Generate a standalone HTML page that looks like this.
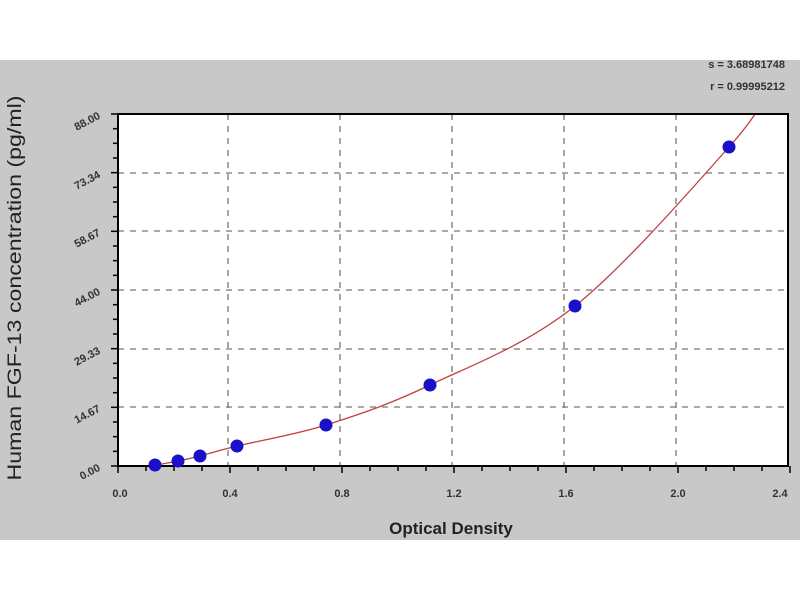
<!DOCTYPE html>
<html><head><meta charset="utf-8"><style>
html,body{margin:0;padding:0;background:#fff;width:800px;height:600px;overflow:hidden}
svg{display:block}
text{font-family:"Liberation Sans",sans-serif}
</style></head><body>
<svg id="s" width="800" height="600" xmlns="http://www.w3.org/2000/svg">
<defs><clipPath id="c"><rect x="118" y="114" width="670" height="352"/></clipPath></defs>
<rect x="0" y="60" width="800" height="480" fill="#c8c8c8"/>
<rect x="118" y="114" width="670" height="352" fill="#fff"/>
<g stroke="#777" stroke-width="1.3" stroke-dasharray="6,6">
<line x1="228" y1="114" x2="228" y2="466"/><line x1="340" y1="114" x2="340" y2="466"/>
<line x1="452" y1="114" x2="452" y2="466"/><line x1="564" y1="114" x2="564" y2="466"/>
<line x1="676" y1="114" x2="676" y2="466"/>
<line x1="118" y1="173" x2="788" y2="173"/><line x1="118" y1="231" x2="788" y2="231"/>
<line x1="118" y1="290" x2="788" y2="290"/><line x1="118" y1="349" x2="788" y2="349"/>
<line x1="118" y1="407" x2="788" y2="407"/>
</g>
<path id="curve" fill="none" stroke="#c04040" stroke-width="1.3" clip-path="url(#c)"/>
<rect x="118" y="114" width="670" height="352" fill="none" stroke="#000" stroke-width="2"/>
<g id="ticks" stroke="#000" stroke-width="1.5"></g>
<g id="pts" fill="#1a10c8"></g>
<g font-size="11" fill="#333" font-weight="bold">
<text x="120" y="497" text-anchor="middle">0.0</text>
<text x="230" y="497" text-anchor="middle">0.4</text>
<text x="342" y="497" text-anchor="middle">0.8</text>
<text x="454" y="497" text-anchor="middle">1.2</text>
<text x="566" y="497" text-anchor="middle">1.6</text>
<text x="678" y="497" text-anchor="middle">2.0</text>
<text x="780" y="497" text-anchor="middle">2.4</text>
</g>
<g font-size="11" fill="#333" font-weight="bold">
<text transform="translate(101,470) rotate(-28)" text-anchor="end">0.00</text>
<text transform="translate(101,411) rotate(-28)" text-anchor="end">14.67</text>
<text transform="translate(101,353) rotate(-28)" text-anchor="end">29.33</text>
<text transform="translate(101,294) rotate(-28)" text-anchor="end">44.00</text>
<text transform="translate(101,235) rotate(-28)" text-anchor="end">58.67</text>
<text transform="translate(101,177) rotate(-28)" text-anchor="end">73.34</text>
<text transform="translate(101,118) rotate(-28)" text-anchor="end">88.00</text>
</g>
<text x="451" y="534" font-size="17" font-weight="bold" text-anchor="middle" fill="#222">Optical Density</text>
<text transform="translate(21,288) rotate(-90)" font-size="19" text-anchor="middle" fill="#222" textLength="385" lengthAdjust="spacingAndGlyphs">Human FGF-13 concentration (pg/ml)</text>
<text x="785" y="68" font-size="11" font-weight="bold" text-anchor="end" fill="#333">s = 3.68981748</text>
<text x="785" y="90" font-size="11" font-weight="bold" text-anchor="end" fill="#333">r = 0.99995212</text>
</svg>
<script>
var t=document.getElementById("ticks"),h="";
for(var i=0;i<=24;i++){var x=118+i*28;var L=(i%4==0)?7:5;h+='<line x1="'+x+'" y1="466" x2="'+x+'" y2="'+(466+L)+'"/>';}
for(var j=0;j<=24;j++){var y=466-j*352/24;var L=(j%4==0)?7:5;h+='<line x1="118" y1="'+y+'" x2="'+(118-L)+'" y2="'+y+'"/>';}
t.innerHTML=h;
var P=[[135,466.5],[155,465],[178,461],[200,456],[237,446],[326,425],[430,385],[575,306],[729,147],[770,88]];
var d="M"+P[0][0]+","+P[0][1];
for(var k=0;k<P.length-1;k++){var p0=P[Math.max(k-1,0)],p1=P[k],p2=P[k+1],p3=P[Math.min(k+2,P.length-1)];
d+=" C"+(p1[0]+(p2[0]-p0[0])/6)+","+(p1[1]+(p2[1]-p0[1])/6)+" "+(p2[0]-(p3[0]-p1[0])/6)+","+(p2[1]-(p3[1]-p1[1])/6)+" "+p2[0]+","+p2[1];}
document.getElementById("curve").setAttribute("d",d);
var g=document.getElementById("pts"),s="";
for(var k=1;k<P.length-1;k++)s+='<circle cx="'+P[k][0]+'" cy="'+P[k][1]+'" r="6.5"/>';
g.innerHTML=s;
</script>
</body></html>
